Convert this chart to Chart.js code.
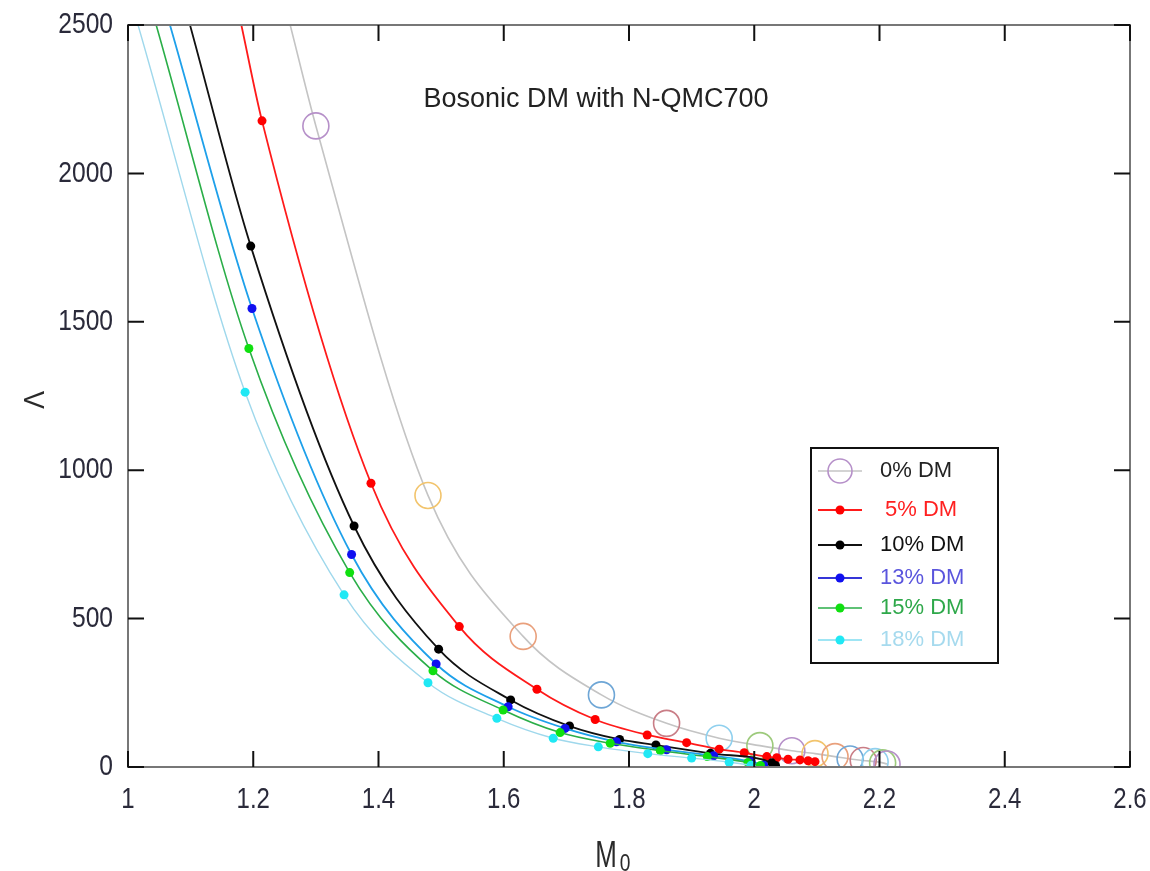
<!DOCTYPE html>
<html>
<head>
<meta charset="utf-8">
<script src="https://cdn.jsdelivr.net/npm/chart.js@4"></script>
<style>
  body { margin: 0; background: #fff; }
  #wrap { width: 1150px; height: 871px; }
</style>
</head>
<body>
<div id="wrap"><canvas id="chart" width="1150" height="871"></canvas></div>
<script>
// datos (primer punto de cada serie = cruce con el borde superior, sin marcador)
const labels = ['0% DM', '5% DM', '10% DM', '13% DM', '15% DM', '18% DM'];

const x0 = [1.259, 1.300, 1.479, 1.631, 1.756, 1.860, 1.944, 2.009, 2.060, 2.097, 2.129, 2.153, 2.174, 2.193, 2.205, 2.212];
const y0 = [2500, 2160, 915, 440, 243, 147, 97, 72, 55, 45, 35, 27, 22, 18, 14, 10];

const x5 = [1.181, 1.214, 1.388, 1.529, 1.653, 1.746, 1.829, 1.892, 1.944, 1.984, 2.020, 2.036, 2.054, 2.073, 2.086, 2.097];
const y5 = [2500, 2177, 956, 473, 262, 160, 108, 82, 60, 48, 35, 31, 26, 24, 21, 18];

const x10 = [1.099, 1.196, 1.361, 1.496, 1.611, 1.705, 1.785, 1.843, 1.930, 2.028, 2.034];
const y10 = [2500, 1755, 812, 397, 226, 138, 93, 74, 46, 14, 5];

const x13 = [1.067, 1.198, 1.357, 1.492, 1.607, 1.698, 1.780, 1.860, 1.935, 1.995, 2.015];
const y13 = [2500, 1545, 716, 347, 203, 130, 85, 58, 38, 18, 6];

const x15 = [1.045, 1.193, 1.354, 1.487, 1.599, 1.690, 1.770, 1.850, 1.925, 1.990, 2.010];
const y15 = [2500, 1410, 655, 324, 192, 116, 80, 55, 35, 15, 5];

const x18 = [1.016, 1.187, 1.345, 1.479, 1.589, 1.679, 1.751, 1.830, 1.900, 1.960, 1.995];
const y18 = [2500, 1263, 580, 284, 164, 97, 68, 45, 30, 16, 6];

const xTicks = [1, 1.2, 1.4, 1.6, 1.8, 2, 2.2, 2.4, 2.6];
const yTicks = [0, 500, 1000, 1500, 2000, 2500];

// colores de los circulos (orden de colores tipo matlab, aclarados)
const circleColors = ['#b690c9', '#f2c46c', '#e9a07c', '#6ea6d6', '#c97d86', '#8fd0ee', '#9dca7c'];

const toPts = (xs, ys) => xs.map((x, i) => ({ x: x, y: ys[i] }));
const radii = (n, r) => Array.from({ length: n }, (_, i) => i === 0 ? 0 : r);

const seriesDefs = [
  { xs: x0, ys: y0, line: '#c4c4c4', legLine: '#c4c4c4', dot: null, text: '#222222', w: 1.6 },
  { xs: x5, ys: y5, line: '#ff1a1a', legLine: '#ff1a1a', dot: '#ff0000', text: '#ff2020', w: 1.8 },
  { xs: x10, ys: y10, line: '#111111', legLine: '#111111', dot: '#000000', text: '#111111', w: 1.8 },
  { xs: x13, ys: y13, line: '#1ea0ea', legLine: '#3535d8', dot: '#1010f0', text: '#5a55dd', w: 1.8 },
  { xs: x15, ys: y15, line: '#2aae48', legLine: '#2aae48', dot: '#10e010', text: '#2ea84a', w: 1.6 },
  { xs: x18, ys: y18, line: '#9fd8ec', legLine: '#7fdcf0', dot: '#20e8f4', text: '#a6daee', w: 1.4 }
];

const datasets = seriesDefs.map((s, k) => {
  const n = s.xs.length;
  if (k === 0) {
    return {
      label: labels[k],
      data: toPts(s.xs, s.ys),
      borderColor: s.line,
      borderWidth: s.w,
      cubicInterpolationMode: 'monotone',
      pointRadius: radii(n, 13),
      pointBorderWidth: 1.6,
      pointBackgroundColor: 'rgba(0,0,0,0)',
      pointBorderColor: s.ys.map((_, i) => circleColors[(i + 6) % 7]),
      order: 10
    };
  }
  return {
    label: labels[k],
    data: toPts(s.xs, s.ys),
    borderColor: s.line,
    borderWidth: s.w,
    cubicInterpolationMode: 'monotone',
    pointRadius: radii(n, 4.5),
    pointBorderWidth: 0,
    pointBackgroundColor: s.dot,
    order: 10 - k
  };
});

// texto estrecho (tipo Arial Narrow) dibujado con escala horizontal
function narrowText(ctx, txt, x, y, size, align, sx) {
  ctx.save();
  ctx.font = size + 'px "Liberation Sans", Arial, sans-serif';
  ctx.textAlign = align;
  ctx.textBaseline = 'middle';
  ctx.translate(x, y);
  ctx.scale(sx, 1);
  ctx.fillText(txt, 0, 0);
  ctx.restore();
}

// marco con ticks hacia dentro, etiquetas, titulo interno y leyenda
const framePlugin = {
  id: 'frame',
  afterDraw(chart) {
    const { ctx, chartArea: a, scales } = chart;
    ctx.save();
    ctx.strokeStyle = '#777';
    ctx.lineWidth = 2;
    ctx.strokeRect(a.left, a.top, a.right - a.left, a.bottom - a.top);
    ctx.strokeStyle = '#111';
    ctx.lineWidth = 2;
    const tl = 16;
    ctx.beginPath();
    xTicks.forEach(v => {
      const px = scales.x.getPixelForValue(v);
      ctx.moveTo(px, a.bottom); ctx.lineTo(px, a.bottom - tl);
      ctx.moveTo(px, a.top); ctx.lineTo(px, a.top + tl);
    });
    yTicks.forEach(v => {
      const py = scales.y.getPixelForValue(v);
      ctx.moveTo(a.left, py); ctx.lineTo(a.left + tl, py);
      ctx.moveTo(a.right, py); ctx.lineTo(a.right - tl, py);
    });
    ctx.stroke();

    // etiquetas de los ejes
    ctx.fillStyle = '#2a2a3a';
    xTicks.forEach(v => {
      narrowText(ctx, String(v), scales.x.getPixelForValue(v), a.bottom + 33, 30, 'center', 0.8);
    });
    yTicks.forEach(v => {
      narrowText(ctx, String(v), a.left - 15, scales.y.getPixelForValue(v), 30, 'right', 0.82);
    });
    ctx.fillStyle = '#2a2a2a';
    narrowText(ctx, 'M', 606, 857, 36, 'center', 0.72);
    narrowText(ctx, '0', 625, 864, 24, 'center', 0.8);
    ctx.save();
    ctx.translate(36, 400);
    ctx.rotate(-Math.PI / 2);
    narrowText(ctx, '\u039B', 0, 0, 30, 'center', 0.9);
    ctx.restore();

    // titulo
    ctx.fillStyle = '#222';
    ctx.font = '27px "Liberation Sans", Arial, sans-serif';
    ctx.textAlign = 'center';
    ctx.textBaseline = 'middle';
    ctx.fillText('Bosonic DM with N-QMC700', 596, 100);

    // leyenda
    const bx = 811, by = 448, bw = 187, bh = 215;
    ctx.fillStyle = '#fff';
    ctx.fillRect(bx, by, bw, bh);
    ctx.strokeStyle = '#111';
    ctx.lineWidth = 2;
    ctx.strokeRect(bx, by, bw, bh);
    const rows = [471, 510, 545, 578, 608, 640];
    ctx.font = '22px "Liberation Sans", Arial, sans-serif';
    ctx.textAlign = 'left';
    seriesDefs.forEach((s, k) => {
      const y = rows[k];
      ctx.strokeStyle = s.legLine;
      ctx.lineWidth = s.w;
      ctx.beginPath();
      ctx.moveTo(818, y); ctx.lineTo(862, y);
      ctx.stroke();
      if (k === 0) {
        ctx.strokeStyle = circleColors[0];
        ctx.lineWidth = 1.6;
        ctx.beginPath();
        ctx.arc(840, y, 12, 0, Math.PI * 2);
        ctx.stroke();
      } else {
        ctx.fillStyle = s.dot;
        ctx.beginPath();
        ctx.arc(840, y, 4.5, 0, Math.PI * 2);
        ctx.fill();
      }
      ctx.fillStyle = s.text;
      ctx.fillText(labels[k], k === 1 ? 885 : 880, y);
    });
    ctx.restore();
  }
};

new Chart(document.getElementById('chart'), {
  type: 'line',
  data: { datasets: datasets },
  options: {
    responsive: false,
    animation: false,
    layout: { padding: { top: 25, right: 20, left: 0, bottom: 0 } },
    plugins: {
      legend: { display: false },
      tooltip: { enabled: false }
    },
    scales: {
      x: {
        type: 'linear',
        min: 1, max: 2.6,
        grid: { display: false },
        border: { display: false },
        afterBuildTicks: s => { s.ticks = xTicks.map(v => ({ value: v })); },
        afterFit: s => { s.height = 104; },
        ticks: { display: false }
      },
      y: {
        type: 'linear',
        min: 0, max: 2500,
        grid: { display: false },
        border: { display: false },
        afterBuildTicks: s => { s.ticks = yTicks.map(v => ({ value: v })); },
        afterFit: s => { s.width = 128; },
        ticks: { display: false }
      }
    }
  },
  plugins: [framePlugin]
});
</script>
</body>
</html>
